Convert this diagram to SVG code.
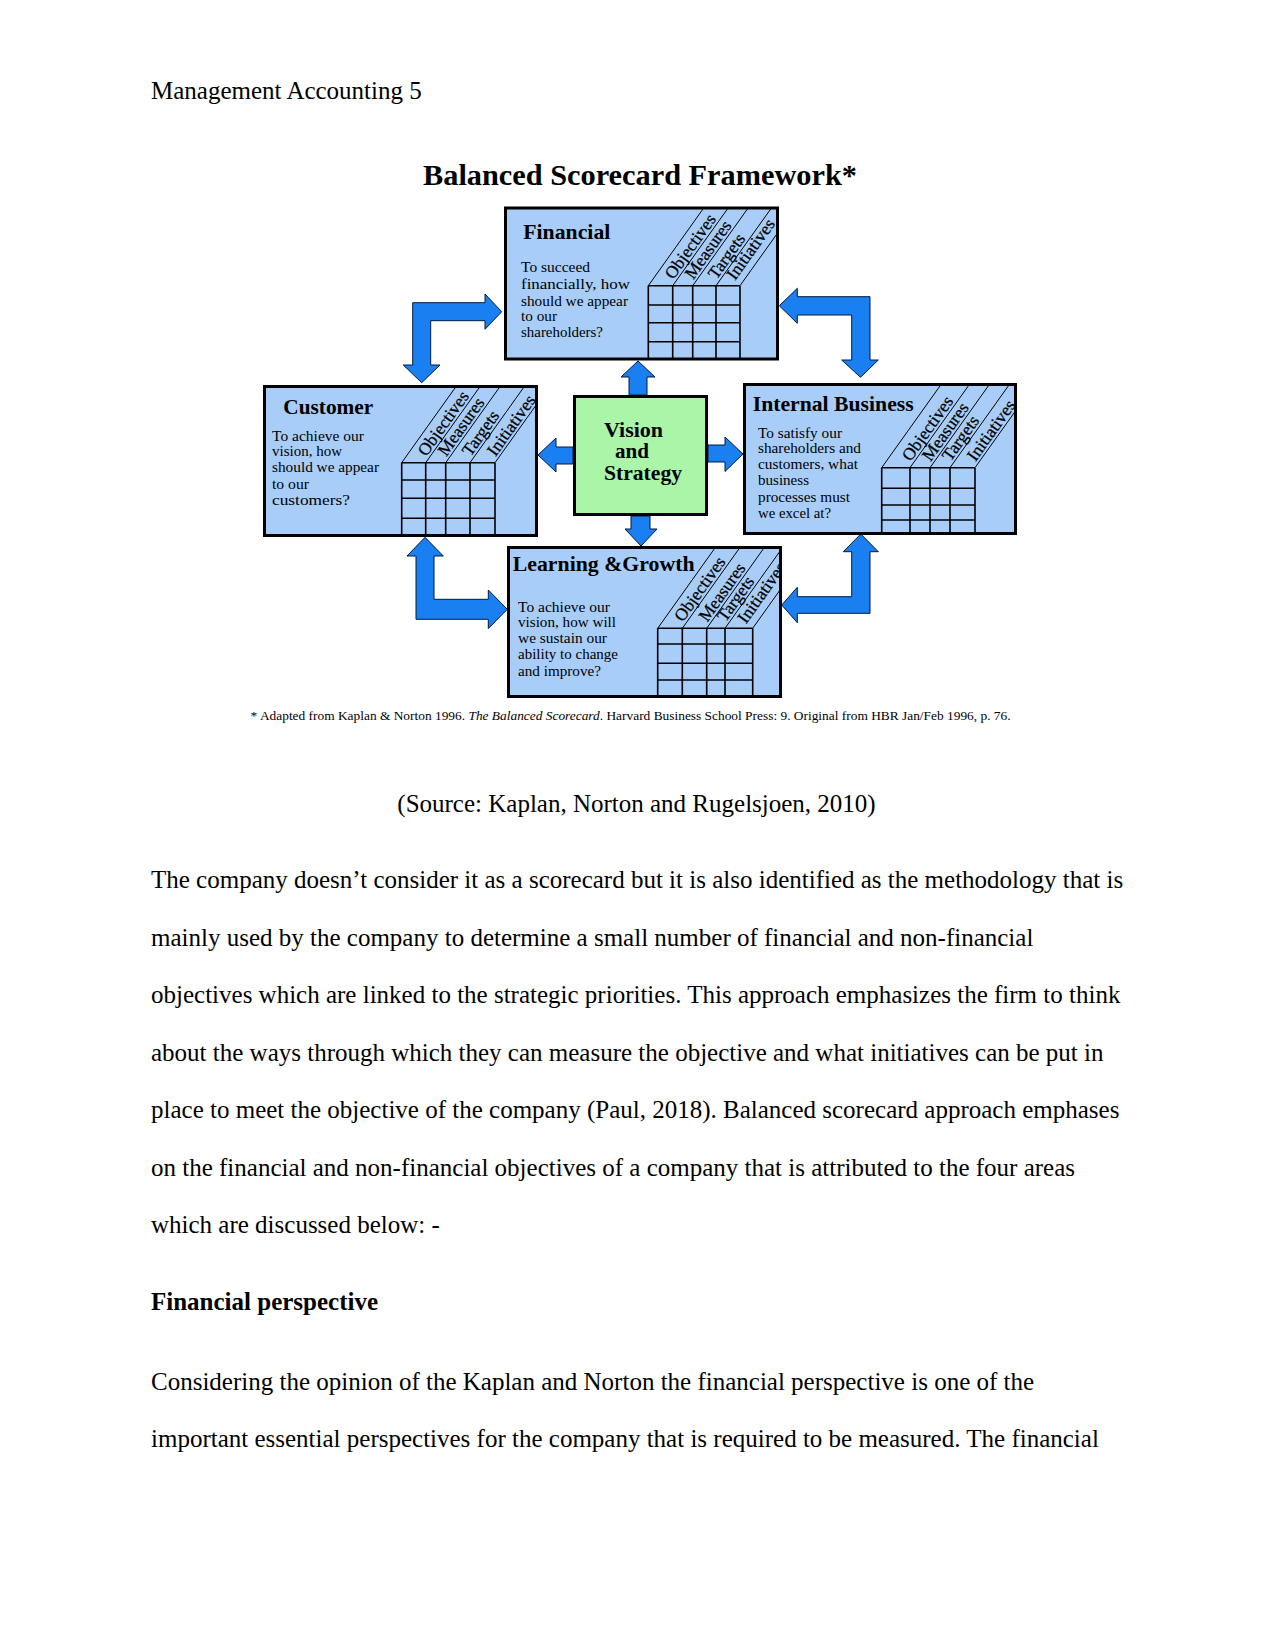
<svg xmlns="http://www.w3.org/2000/svg" width="1275" height="1651" viewBox="0 0 1275 1651">
<style>
.doc{font-family:"Liberation Serif","Times New Roman",serif;font-size:25px;fill:#000}
.box{fill:#a8cdf8;stroke:#000;stroke-width:3}
.vis{fill:#aaf5a8;stroke:#000;stroke-width:3}
.ttl{font-family:"Liberation Serif",serif;font-weight:bold;font-size:21px;fill:#000}
.bt{font-family:"Liberation Serif",serif;font-size:15px;fill:#000}
.lab{font-family:"Liberation Serif",serif;font-size:17.5px;fill:#000;stroke:#000;stroke-width:0.25}
.grid{stroke:#000;stroke-width:1.6;fill:none}
.diag{stroke:#000;stroke-width:1;fill:none}
.arr{fill:#1a7ff0;stroke:#001a40;stroke-width:1}
</style>
<defs>
<clipPath id="cF"><rect x="506" y="209" width="271" height="149"/></clipPath>
<clipPath id="cC"><rect x="265" y="387" width="271" height="148"/></clipPath>
<clipPath id="cI"><rect x="745" y="385" width="270" height="148"/></clipPath>
<clipPath id="cL"><rect x="509" y="548" width="271" height="148"/></clipPath>
</defs>
<rect width="1275" height="1651" fill="#fff"/>
<text class="doc" x="151" y="99">Management Accounting 5</text>
<text x="423" y="185" font-family="Liberation Serif,serif" font-weight="bold" font-size="30" textLength="434" lengthAdjust="spacingAndGlyphs">Balanced Scorecard Framework*</text>

<g id="connectors">
<polygon class="arr" points="501.7,311.7 485,294 485,302.7 412.7,302.7 412.7,365 403.3,365 421.7,382.7 440,365 430.7,365 430.7,320.7 485,320.7 485,329.3"/>
<polygon class="arr" points="779.3,305.8 797.3,288.3 797.3,296.7 870,296.7 870,360 878.3,360 860.5,377.3 841.7,360 851.7,360 851.7,315 797.3,315 797.3,323.3"/>
<polygon class="arr" points="425,537.3 443.3,556 434,556 434,599.3 488.3,599.3 488.3,590 507.3,609.3 488.3,628.6 488.3,619.3 416,619.3 416,556 407,556"/>
<polygon class="arr" points="860.8,534 878.3,551.7 870,551.7 870,613.3 797.3,613.3 797.3,622.7 781.7,605 797.3,587.3 797.3,596.7 851.7,596.7 851.7,551.7 843.3,551.7"/>
<polygon class="arr" points="638,361 655,377 647,377 647,395 629,395 629,377 621,377"/>
<polygon class="arr" points="631,516 650,516 650,529 657,529 641,546 625,529 631,529"/>
<polygon class="arr" points="538,455 556,438 556,447 573,447 573,464 556,464 556,472"/>
<polygon class="arr" points="708,445 725,445 725,437 743,454 725,471.5 725,462 708,462"/>
</g>

<g id="financial">
<rect class="box" x="505.5" y="208" width="272" height="151"/>
<text class="ttl" x="523.3" y="239.3" textLength="87" lengthAdjust="spacingAndGlyphs">Financial</text>
<text class="bt" x="521" y="272.3" textLength="69" lengthAdjust="spacingAndGlyphs">To succeed</text>
<text class="bt" x="521" y="289" textLength="109" lengthAdjust="spacingAndGlyphs">financially, how</text>
<text class="bt" x="521" y="305.7" textLength="107" lengthAdjust="spacingAndGlyphs">should we appear</text>
<text class="bt" x="521" y="321" textLength="36" lengthAdjust="spacingAndGlyphs">to our</text>
<text class="bt" x="521" y="336.7" textLength="82" lengthAdjust="spacingAndGlyphs">shareholders?</text>
<path class="grid" d="M648.3,285.7V359M672.7,285.7V359M692.7,285.7V359M716,285.7V359M740,285.7V359M648.3,285.7H740M648.3,305H740M648.3,322.7H740M648.3,341.7H740"/>
<g clip-path="url(#cF)">
<path class="diag" d="M648.3,285.7l116.1,-162.8M672.7,285.7l116.1,-162.8M692.7,285.7l116.1,-162.8M716,285.7l116.1,-162.8M740,285.7l116.1,-162.8"/>
<text class="lab" transform="translate(673.2,280.2) rotate(-54.5)">Objectives</text>
<text class="lab" transform="translate(693.2,280.2) rotate(-54.5)">Measures</text>
<text class="lab" transform="translate(716.5,280.2) rotate(-54.5)">Targets</text>
<text class="lab" transform="translate(735,281) rotate(-54.5)">Initiatives</text>
</g>
</g>

<g id="customer">
<rect class="box" x="264.5" y="386.5" width="272" height="149"/>
<text class="ttl" x="283.3" y="414" textLength="90" lengthAdjust="spacingAndGlyphs">Customer</text>
<text class="bt" x="272" y="440.7" textLength="92" lengthAdjust="spacingAndGlyphs">To achieve our</text>
<text class="bt" x="272" y="456" textLength="70" lengthAdjust="spacingAndGlyphs">vision, how</text>
<text class="bt" x="272" y="471.7" textLength="107" lengthAdjust="spacingAndGlyphs">should we appear</text>
<text class="bt" x="272" y="489" textLength="37" lengthAdjust="spacingAndGlyphs">to our</text>
<text class="bt" x="272" y="505" textLength="78" lengthAdjust="spacingAndGlyphs">customers?</text>
<path class="grid" d="M401.7,462.7V536M425.7,462.7V536M445.7,462.7V536M470,462.7V536M495,462.7V536M401.7,462.7H495M401.7,480H495M401.7,498.3H495M401.7,518.3H495"/>
<g clip-path="url(#cC)">
<path class="diag" d="M401.7,462.7l116.1,-162.8M425.7,462.7l116.1,-162.8M445.7,462.7l116.1,-162.8M470,462.7l116.1,-162.8M495,462.7l116.1,-162.8"/>
<text class="lab" transform="translate(426.2,457.2) rotate(-54.5)">Objectives</text>
<text class="lab" transform="translate(446.2,457.2) rotate(-54.5)">Measures</text>
<text class="lab" transform="translate(470.5,457.2) rotate(-54.5)">Targets</text>
<text class="lab" transform="translate(495.5,457.2) rotate(-54.5)">Initiatives</text>
</g>
</g>

<g id="vision">
<rect class="vis" x="574.5" y="396.5" width="132" height="118"/>
<text class="ttl" x="604" y="436.7" textLength="59" lengthAdjust="spacingAndGlyphs">Vision</text>
<text class="ttl" x="615" y="458.3" textLength="34" lengthAdjust="spacingAndGlyphs">and</text>
<text class="ttl" x="604" y="480" textLength="78" lengthAdjust="spacingAndGlyphs">Strategy</text>
</g>

<g id="internal">
<rect class="box" x="744.5" y="384.5" width="271" height="149"/>
<text class="ttl" x="752.7" y="410.7" textLength="161" lengthAdjust="spacingAndGlyphs">Internal Business</text>
<text class="bt" x="758" y="438.3" textLength="84" lengthAdjust="spacingAndGlyphs">To satisfy our</text>
<text class="bt" x="758" y="453.3" textLength="103" lengthAdjust="spacingAndGlyphs">shareholders and</text>
<text class="bt" x="758" y="469.3" textLength="100" lengthAdjust="spacingAndGlyphs">customers, what</text>
<text class="bt" x="758" y="485" textLength="51" lengthAdjust="spacingAndGlyphs">business</text>
<text class="bt" x="758" y="501.7" textLength="92" lengthAdjust="spacingAndGlyphs">processes must</text>
<text class="bt" x="758" y="518.3" textLength="73" lengthAdjust="spacingAndGlyphs">we excel at?</text>
<path class="grid" d="M881.7,467.7V534M910,467.7V534M930,467.7V534M950,467.7V534M975,467.7V534M881.7,467.7H975M881.7,488.3H975M881.7,505H975M881.7,520H975"/>
<g clip-path="url(#cI)">
<path class="diag" d="M881.7,467.7l116.1,-162.8M910,467.7l116.1,-162.8M930,467.7l116.1,-162.8M950,467.7l116.1,-162.8M975,467.7l116.1,-162.8"/>
<text class="lab" transform="translate(910.5,462.2) rotate(-54.5)">Objectives</text>
<text class="lab" transform="translate(930.5,462.2) rotate(-54.5)">Measures</text>
<text class="lab" transform="translate(950.5,462.2) rotate(-54.5)">Targets</text>
<text class="lab" transform="translate(975.5,462.2) rotate(-54.5)">Initiatives</text>
</g>
</g>

<g id="learning">
<rect class="box" x="508.5" y="547.5" width="272" height="149"/>
<text class="ttl" x="512.7" y="570.7" textLength="182" lengthAdjust="spacingAndGlyphs">Learning &amp;Growth</text>
<text class="bt" x="518" y="611.7" textLength="92" lengthAdjust="spacingAndGlyphs">To achieve our</text>
<text class="bt" x="518" y="627.3" textLength="98" lengthAdjust="spacingAndGlyphs">vision, how will</text>
<text class="bt" x="518" y="643.3" textLength="89" lengthAdjust="spacingAndGlyphs">we sustain our</text>
<text class="bt" x="518" y="659.3" textLength="100" lengthAdjust="spacingAndGlyphs">ability to change</text>
<text class="bt" x="518" y="675.7" textLength="83" lengthAdjust="spacingAndGlyphs">and improve?</text>
<path class="grid" d="M657.7,628.3V697M682.3,628.3V697M706.7,628.3V697M725,628.3V697M752.7,628.3V697M657.7,628.3H752.7M657.7,644H752.7M657.7,663.3H752.7M657.7,680H752.7"/>
<g clip-path="url(#cL)">
<path class="diag" d="M657.7,628.3l116.1,-162.8M682.3,628.3l116.1,-162.8M706.7,628.3l116.1,-162.8M725,628.3l116.1,-162.8M752.7,628.3l116.1,-162.8"/>
<text class="lab" transform="translate(682.8,622.8) rotate(-54.5)">Objectives</text>
<text class="lab" transform="translate(707.2,622.8) rotate(-54.5)">Measures</text>
<text class="lab" transform="translate(725.5,622.8) rotate(-54.5)">Targets</text>
<text class="lab" transform="translate(746,624.5) rotate(-54.5)">Initiatives</text>
</g>
</g>

<text x="250.6" y="720" font-family="Liberation Serif,serif" font-size="12.5" textLength="760" lengthAdjust="spacingAndGlyphs">* Adapted from Kaplan &amp; Norton 1996.  <tspan font-style="italic">The Balanced Scorecard</tspan>.  Harvard Business School Press: 9.  Original from HBR Jan/Feb 1996, p. 76.</text>

<text class="doc" x="636.5" y="812" text-anchor="middle">(Source: Kaplan, Norton and Rugelsjoen, 2010)</text>
<text class="doc" x="151" y="888">The company doesn’t consider it as a scorecard but it is also identified as the methodology that is</text>
<text class="doc" x="151" y="945.5">mainly used by the company to determine a small number of financial and non-financial</text>
<text class="doc" x="151" y="1003">objectives which are linked to the strategic priorities. This approach emphasizes the firm to think</text>
<text class="doc" x="151" y="1060.5">about the ways through which they can measure the objective and what initiatives can be put in</text>
<text class="doc" x="151" y="1118">place to meet the objective of the company (Paul, 2018). Balanced scorecard approach emphases</text>
<text class="doc" x="151" y="1175.5">on the financial and non-financial objectives of a company that is attributed to the four areas</text>
<text class="doc" x="151" y="1233">which are discussed below: -</text>
<text class="doc" x="151" y="1310" font-weight="bold">Financial perspective</text>
<text class="doc" x="151" y="1390">Considering the opinion of the Kaplan and Norton the financial perspective is one of the</text>
<text class="doc" x="151" y="1447">important essential perspectives for the company that is required to be measured. The financial</text>
</svg>
